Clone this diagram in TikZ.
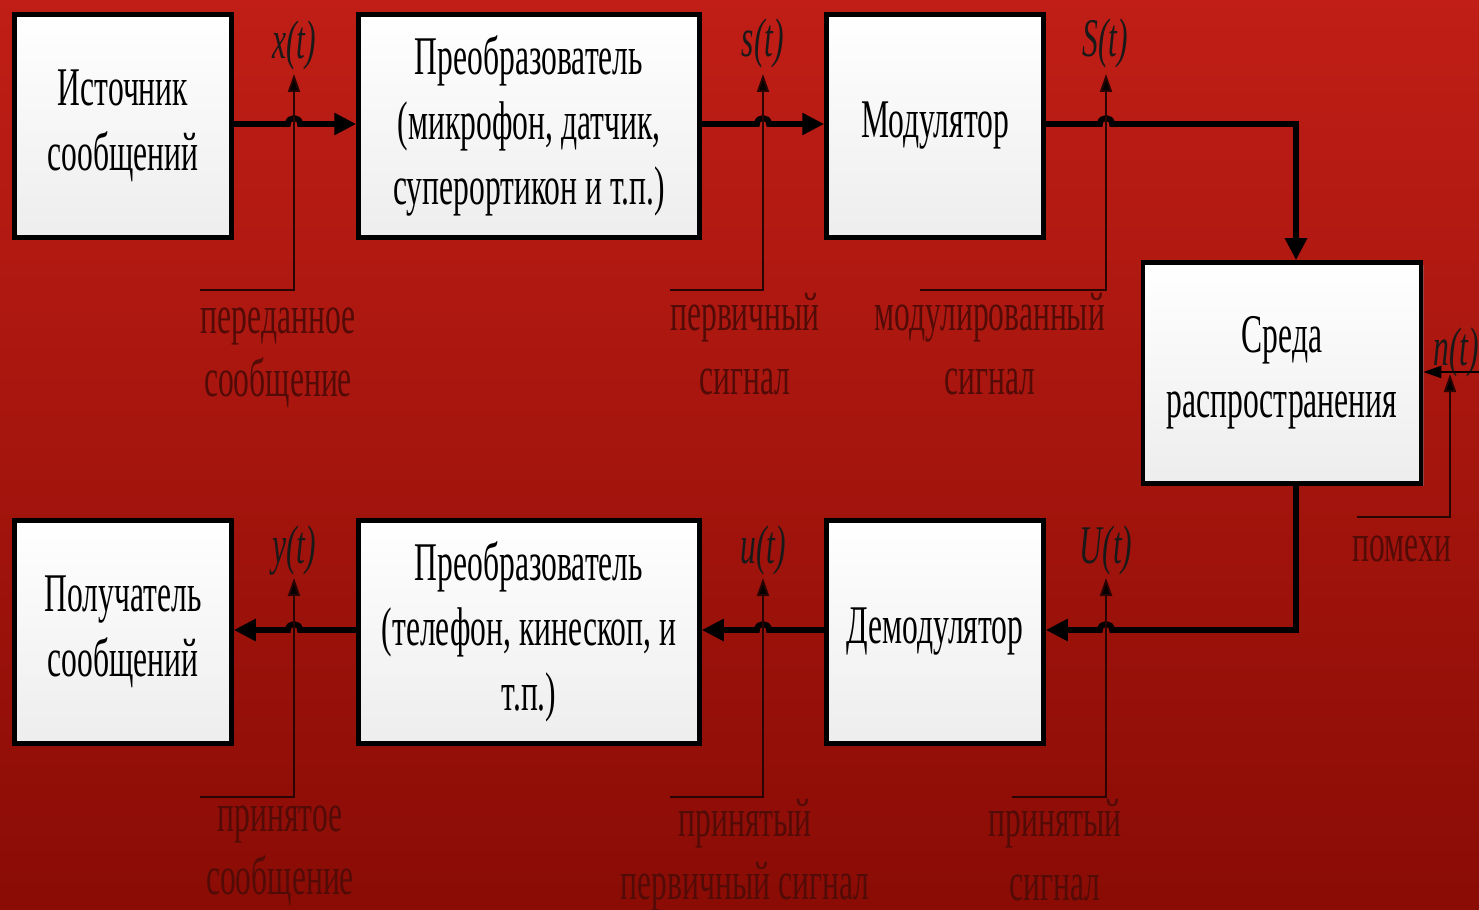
\documentclass[tikz,border=0pt]{standalone}
\usepackage{fontspec}
\newfontfamily\narrow[FakeStretch=0.58]{Liberation Serif}
\usetikzlibrary{arrows.meta,shadows}
\definecolor{bgtop}{RGB}{192,30,22}
\definecolor{bgbot}{RGB}{138,12,5}
\definecolor{tapc}{RGB}{40,5,3}
\definecolor{notec}{RGB}{82,11,7}
\tikzset{
  block/.style={draw=black, line width=2.6pt, top color=white, bottom color=gray!14,
    inner sep=0pt, align=center, minimum height=4.46cm,
    font=\narrow\fontsize{31}{37}\selectfont,
    drop shadow={shadow xshift=1.5pt, shadow yshift=-1.5pt, opacity=0.45}},
  narrowblock/.style={block, minimum width=4.34cm},
  wideblock/.style={block, minimum width=6.82cm},
  main/.style={line width=3.3pt, black},
  mainarrow/.style={main, -{Triangle[length=0.44cm, width=0.42cm]}},
  tap/.style={line width=1.1pt, tapc},
  taparrow/.style={tap, -{Triangle[length=0.36cm, width=0.24cm, fill=black]}},
  sig/.style={inner sep=0pt, font=\narrow\itshape\fontsize{31}{37}\selectfont, text=black!90},
  note/.style={inner sep=0pt, align=center, text=notec, font=\narrow\fontsize{31}{36}\selectfont}
}
\begin{document}
\begin{tikzpicture}[x=0.02cm, y=-0.02cm]
  % background
  \shade[top color=bgtop, bottom color=bgbot] (0,0) rectangle (1479,909);
  \useasboundingbox (0,0) rectangle (1479,909);

  % transmitting chain
  \node[narrowblock] (src)   at (123,126) {Источник\\сообщений};
  \node[wideblock]   (conv1) at (529,126) {Преобразователь\\(микрофон, датчик,\\суперортикон и т.п.)};
  \node[narrowblock] (mod)   at (935,126) {Модулятор};
  \node[block, minimum width=5.56cm, minimum height=4.42cm] (med) at (1282,373) {Среда\\распространения};

  % receiving chain
  \node[narrowblock] (dst)   at (123,632) {Получатель\\сообщений};
  \node[wideblock]   (conv2) at (529,632) {Преобразователь\\(телефон, кинескоп, и\\т.п.)};
  \node[narrowblock] (demod) at (935,632) {Демодулятор};

  % signal names
  \node[sig] (xt) at (294,45)  {x(t)};
  \node[sig] (st) at (763,43)  {s(t)};
  \node[sig] (St) at (1105,43) {S(t)};
  \node[sig] (nt) at (1456,352) {n(t)};
  \node[sig] (yt) at (294,550) {y(t)};
  \node[sig] (ut) at (763,550) {u(t)};
  \node[sig] (Ut) at (1106,550) {U(t)};

  % signal descriptions
  \node[note] (n1) at (278,358) {переданное\\сообщение};
  \node[note] (n2) at (745,344) {первичный\\сигнал};
  \node[note] (n3) at (990,344) {модулированный\\сигнал};
  \node[note] (n4) at (1402,549) {помехи};
  \node[note] (n5) at (280,856) {принятое\\сообщение};
  \node[note] (n6) at (745,855) {принятый\\первичный сигнал};
  \node[note] (n7) at (1055,850) {принятый\\сигнал};

  % hop points on the main lines
  \coordinate (h1a) at (288,124); \coordinate (h1b) at (300,124);
  \coordinate (h2a) at (757,124); \coordinate (h2b) at (769,124);
  \coordinate (h3a) at (1100,124); \coordinate (h3b) at (1112,124);
  \coordinate (turn1) at (1296,124);
  \coordinate (turn2) at (1296,630);
  \coordinate (h4a) at (1112,630); \coordinate (h4b) at (1100,630);
  \coordinate (h5a) at (769,630); \coordinate (h5b) at (757,630);
  \coordinate (h6a) at (300,630); \coordinate (h6b) at (288,630);

  % main signal path
  \draw[mainarrow] (src.east |- h1a) -- (h1a) .. controls +(0,-8) and +(0,-8) .. (h1b) -- (conv1.west |- h1a);
  \draw[mainarrow] (conv1.east |- h2a) -- (h2a) .. controls +(0,-8) and +(0,-8) .. (h2b) -- (mod.west |- h2a);
  \draw[mainarrow] (mod.east |- h3a) -- (h3a) .. controls +(0,-8) and +(0,-8) .. (h3b) -- (turn1) -- (turn1 |- med.north);
  \draw[mainarrow] (turn1 |- med.south) -- (turn2) -- (h4a) .. controls +(0,-8) and +(0,-8) .. (h4b) -- (demod.east |- h4a);
  \draw[mainarrow] (demod.west |- h5a) -- (h5a) .. controls +(0,-8) and +(0,-8) .. (h5b) -- (conv2.east |- h5a);
  \draw[mainarrow] (conv2.west |- h6a) -- (h6a) .. controls +(0,-8) and +(0,-8) .. (h6b) -- (dst.east |- h6a);

  % test points
  \coordinate (p1l) at (200,290);  \coordinate (p1) at (294,290);  \coordinate (p1t) at (294,74);
  \coordinate (p2l) at (670,290);  \coordinate (p2) at (763,290);  \coordinate (p2t) at (763,74);
  \coordinate (p3l) at (920,290);  \coordinate (p3) at (1106,290); \coordinate (p3t) at (1106,74);
  \coordinate (p5l) at (200,797);  \coordinate (p5) at (294,797);  \coordinate (p5t) at (294,578);
  \coordinate (p6l) at (670,797);  \coordinate (p6) at (763,797);  \coordinate (p6t) at (763,578);
  \coordinate (p7l) at (1012,797); \coordinate (p7) at (1106,797); \coordinate (p7t) at (1106,578);
  \draw[taparrow] (p1l) -- (p1) -- (p1t);
  \draw[taparrow] (p2l) -- (p2) -- (p2t);
  \draw[taparrow] (p3l) -- (p3) -- (p3t);
  \draw[taparrow] (p5l) -- (p5) -- (p5t);
  \draw[taparrow] (p6l) -- (p6) -- (p6t);
  \draw[taparrow] (p7l) -- (p7) -- (p7t);

  % interference input
  \coordinate (nin) at (1479,372);
  \coordinate (p4l) at (1357,517); \coordinate (p4) at (1450,517); \coordinate (p4t) at (1450,374);
  \draw[taparrow, black] (nin) -- (med.east |- nin);
  \draw[taparrow] (p4l) -- (p4) -- (p4t);
\end{tikzpicture}
\end{document}
